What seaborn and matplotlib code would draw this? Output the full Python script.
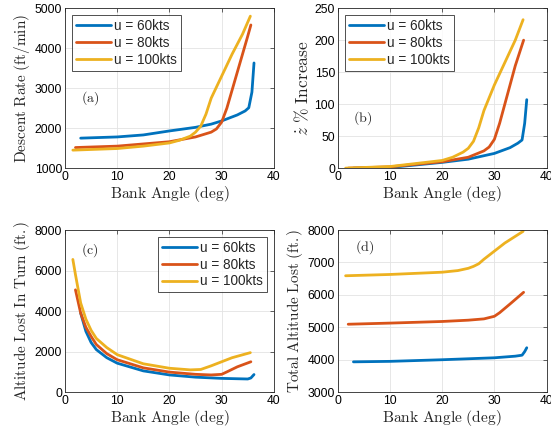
import pandas as pd
import seaborn as sns
import matplotlib.pyplot as plt

speeds = ["u = 60kts", "u = 80kts", "u = 100kts"]
colors = ["#0072BD", "#D95319", "#EDB120"]

# (a) descent rate, ft/min
a60_x = [3, 10, 15, 20, 25, 28, 30, 33, 34.5, 35.2, 35.8, 36.2]
a60_y = [1750, 1780, 1830, 1930, 2020, 2100, 2180, 2330, 2430, 2510, 2900, 3630]
a80_x = [2, 10, 20, 25, 28, 29, 30, 31, 32, 33, 34, 35, 35.6]
a80_y = [1515, 1550, 1660, 1780, 1900, 1980, 2150, 2500, 2950, 3400, 3850, 4300, 4580]
a100_x = [1.5, 10, 15, 20, 22, 24, 25, 26, 27, 28, 30, 32, 34, 35.5]
a100_y = [1450, 1490, 1550, 1630, 1700, 1800, 1900, 2050, 2350, 2750, 3300, 3850, 4350, 4800]

# (b) % increase of descent rate
b60_x = [3, 10, 20, 25, 30, 33, 34.5, 35.3, 35.8, 36.2]
b60_y = [0, 1, 9, 14, 23, 32, 39, 44, 70, 107]
b80_x = [2, 10, 20, 25, 28, 29, 30, 31, 32, 33, 34, 35.6]
b80_y = [0, 2, 10, 17, 27, 33, 45, 70, 100, 130, 160, 200]
b100_x = [1.5, 10, 20, 22, 24, 25, 26, 27, 28, 30, 32, 34, 35.5]
b100_y = [0, 2.5, 12, 17, 25, 31, 42, 63, 90, 130, 165, 200, 232]

# (c) altitude lost in turn, ft
c60_x = [3, 4, 5, 6, 8, 10, 15, 20, 25, 30, 35, 35.6, 36.2]
c60_y = [3900, 3000, 2450, 2100, 1700, 1430, 1050, 850, 740, 680, 650, 700, 870]
c80_x = [2, 3, 4, 5, 6, 8, 10, 15, 20, 25, 28, 30, 31, 33, 35.6]
c80_y = [5050, 3900, 3200, 2750, 2350, 1900, 1600, 1200, 990, 880, 850, 880, 1000, 1250, 1500]
c100_x = [1.5, 2, 3, 4, 5, 6, 8, 10, 15, 20, 24, 26, 28, 30, 32, 35.5]
c100_y = [6550, 5800, 4400, 3600, 3050, 2650, 2200, 1850, 1400, 1180, 1100, 1120, 1300, 1500, 1700, 1950]

# (d) total altitude lost, ft
d60_x = [3, 10, 20, 25, 30, 34, 35.3, 35.8, 36.2]
d60_y = [3935, 3950, 4000, 4030, 4060, 4110, 4140, 4250, 4370]
d80_x = [2, 10, 20, 25, 28, 30, 31, 33, 35.6]
d80_y = [5095, 5130, 5180, 5220, 5260, 5340, 5450, 5720, 6080]
d100_x = [1.5, 10, 20, 23, 25, 26, 27, 28, 30, 32, 35.5]
d100_y = [6590, 6630, 6700, 6750, 6820, 6880, 6960, 7100, 7350, 7600, 7960]


def make_df(series):
    rows = []
    for name, (xs, ys) in zip(speeds, series):
        for x, y in zip(xs, ys):
            rows.append({"angle": x, "value": y, "speed": name})
    return pd.DataFrame(rows)


panels = [
    dict(df=make_df([(a60_x, a60_y), (a80_x, a80_y), (a100_x, a100_y)]),
         ylim=(1000, 5000), yticks=range(1000, 5001, 1000),
         ylabel=r"$\mathrm{Descent\ Rate\ (ft/min)}$", ysize=11, tag="(a)", tag_xy=(3, 2750),
         legend="upper left", pos=[0.118, 0.609, 0.379, 0.372]),
    dict(df=make_df([(b60_x, b60_y), (b80_x, b80_y), (b100_x, b100_y)]),
         ylim=(0, 250), yticks=range(0, 251, 50),
         ylabel=r"$\dot{z}\ \%\ \mathrm{Increase}$", ysize=12.5, tag="(b)", tag_xy=(3, 78),
         legend="upper left", pos=[0.613, 0.609, 0.379, 0.372]),
    dict(df=make_df([(c60_x, c60_y), (c80_x, c80_y), (c100_x, c100_y)]),
         ylim=(0, 8000), yticks=range(0, 8001, 2000),
         ylabel=r"$\mathrm{Altitude\ Lost\ In\ Turn\ (ft.)}$", ysize=11, tag="(c)", tag_xy=(3, 7000),
         legend="upper right", pos=[0.118, 0.088, 0.379, 0.377]),
    dict(df=make_df([(d60_x, d60_y), (d80_x, d80_y), (d100_x, d100_y)]),
         ylim=(3000, 8000), yticks=range(3000, 8001, 1000),
         ylabel=r"$\mathrm{Total\ Altitude\ Lost\ (ft.)}$", ysize=11, tag="(d)", tag_xy=(3.3, 7480),
         legend=None, pos=[0.613, 0.088, 0.379, 0.377]),
]

sns.set_theme(style="whitegrid")
plt.rcParams["font.family"] = ["Liberation Sans", "DejaVu Sans"]
plt.rcParams["mathtext.fontset"] = "cm"

fig = plt.figure(figsize=(5.51, 4.30), dpi=100)
fig.patch.set_facecolor("white")

for p in panels:
    ax = fig.add_axes(p["pos"])
    sns.lineplot(data=p["df"], x="angle", y="value", hue="speed",
                 palette=colors, hue_order=speeds, linewidth=2.0,
                 estimator=None, sort=False, ax=ax)
    ax.set_xlim(0, 40)
    ax.set_xticks(range(0, 41, 10))
    ax.set_ylim(*p["ylim"])
    ax.set_yticks(list(p["yticks"]))
    ax.set_xlabel(r"$\mathrm{Bank\ Angle\ (deg)}$", fontsize=11.2, labelpad=1)
    ax.set_ylabel(p["ylabel"], fontsize=p["ysize"], labelpad=2)
    ax.tick_params(direction="in", length=3, width=0.5, labelsize=8.7,
                   top=True, right=True, colors="#262626", labelcolor="black", pad=2)
    ax.grid(True, color="#e3e3e3", linewidth=0.6)
    ax.set_facecolor("white")
    for s in ax.spines.values():
        s.set_color("#262626")
        s.set_linewidth(0.6)
    ax.text(p["tag_xy"][0], p["tag_xy"][1], r"$\mathrm{" + p["tag"] + "}$",
            fontsize=10, va="center", ha="left")
    if p["legend"] is None:
        ax.get_legend().remove()
    else:
        handles, labels = ax.get_legend_handles_labels()
        leg = ax.legend(handles, labels, loc=p["legend"], fontsize=9.8,
                        frameon=True, fancybox=False, edgecolor="black",
                        handlelength=2.6, borderaxespad=0.5, borderpad=0.3,
                        labelspacing=0.2, handletextpad=0.2)
        leg.get_frame().set_linewidth(0.6)

fig.savefig("out.png", dpi=100, facecolor="white")
